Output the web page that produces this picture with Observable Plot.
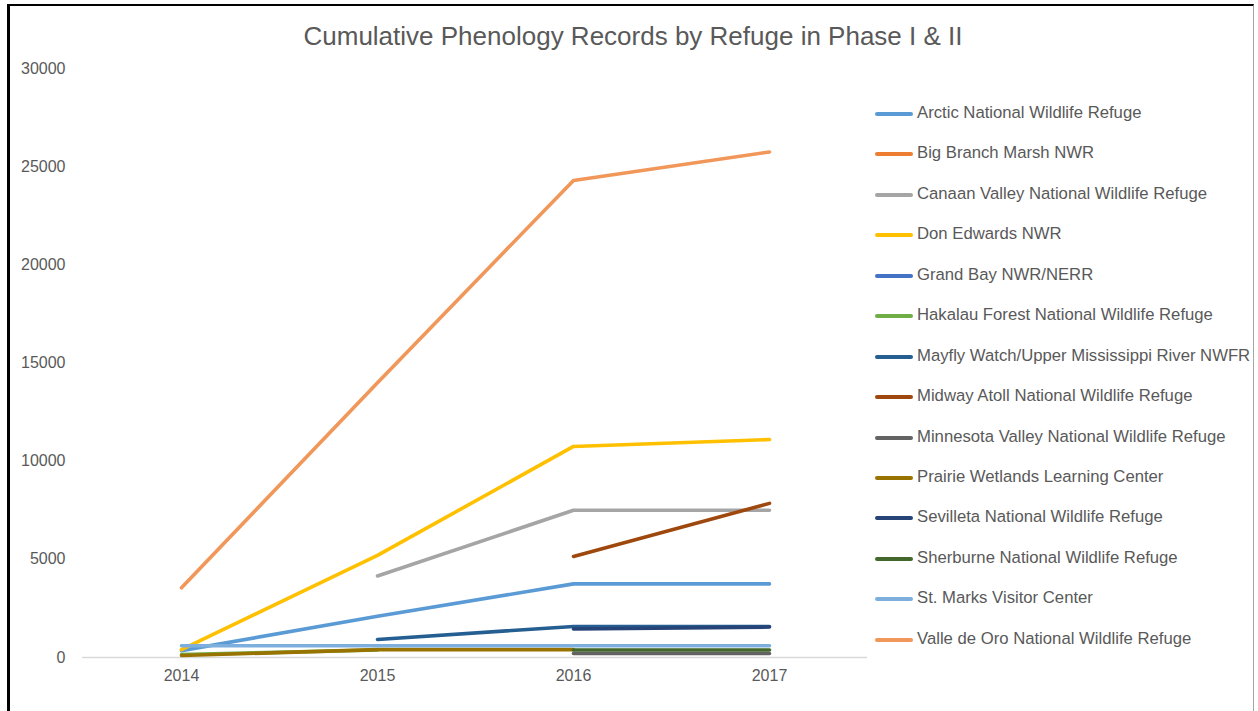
<!DOCTYPE html>
<html>
<head>
<meta charset="utf-8">
<script src="https://cdn.jsdelivr.net/npm/d3@7"></script>
<script src="https://cdn.jsdelivr.net/npm/@observablehq/plot@0.6"></script>
<style>
  html, body { margin: 0; padding: 0; background: #fff; }
  #wrap { position: relative; width: 1258px; height: 711px; overflow: hidden; font-family: "Liberation Sans", Arial, sans-serif; }
  #frame { position: absolute; left: 7px; top: 4px; width: 1247px; height: 720px; border-left: 3px solid #000; border-top: 2px solid #000; border-right: 1px solid #a6a6a6; box-sizing: border-box; }
  #title { position: absolute; left: 0; width: 1266px; top: 21px; text-align: center; font-size: 26px; color: #595959; }
  #chart { position: absolute; left: 0; top: 0; }
  #legend { position: absolute; left: 875px; top: 103px; }
  .item { height: 40.45px; display: flex; align-items: flex-start; font-size: 16.7px; color: #595959; white-space: nowrap; }
  .sw { width: 38px; height: 4px; border-radius: 2px; margin-top: 9px; margin-right: 4px; }
</style>
</head>
<body>
<div id="wrap">
  <div id="frame"></div>
  <div id="title">Cumulative Phenology Records by Refuge in Phase I &amp; II</div>
  <div id="chart"></div>
  <div id="legend"></div>
</div>
<script>
const years = [2014, 2015, 2016, 2017];
const yTicks = [0, 5000, 10000, 15000, 20000, 25000, 30000];

const seriesNames = [
  "Arctic National Wildlife Refuge",
  "Big Branch Marsh NWR",
  "Canaan Valley National Wildlife Refuge",
  "Don Edwards NWR",
  "Grand Bay NWR/NERR",
  "Hakalau Forest National Wildlife Refuge",
  "Mayfly Watch/Upper Mississippi River NWFR",
  "Midway Atoll National Wildlife Refuge",
  "Minnesota Valley National Wildlife Refuge",
  "Prairie Wetlands Learning Center",
  "Sevilleta National Wildlife Refuge",
  "Sherburne National Wildlife Refuge",
  "St. Marks Visitor Center",
  "Valle de Oro National Wildlife Refuge"
];
const seriesColors = [
  "#5B9BD5", "#ED7D31", "#A5A5A5", "#FFC000", "#4472C4", "#70AD47", "#255E91",
  "#9E480E", "#636363", "#997300", "#264478", "#43682B", "#7CAFDD", "#F1975A"
];

// values per year [2014, 2015, 2016, 2017]; null = no record
const arctic      = [350, 2100, 3750, 3750];
const bigBranch   = [null, null, null, null];
const canaan      = [null, 4150, 7500, 7500];
const donEdwards  = [400, 5200, 10750, 11100];
const grandBay    = [null, null, null, null];
const hakalau     = [150, 380, null, null];
const mayfly      = [null, 920, 1580, 1580];
const midway      = [null, null, 5150, 7850];
const minnesota   = [null, null, 200, 200];
const prairie     = [100, 400, 400, null];
const sevilleta   = [null, null, 1450, 1550];
const sherburne   = [null, null, 380, 380];
const stMarks     = [600, 600, 600, 600];
const valleDeOro  = [3550, 14000, 24300, 25750];

const seriesValues = [arctic, bigBranch, canaan, donEdwards, grandBay, hakalau, mayfly,
  midway, minnesota, prairie, sevilleta, sherburne, stMarks, valleDeOro];

const rows = [];
seriesNames.forEach((name, i) => {
  years.forEach((yr, j) => {
    rows.push({series: name, year: yr, value: seriesValues[i][j]});
  });
});

const marks = [
  Plot.ruleY([0], {stroke: "#D9D9D9", strokeWidth: 1.3})
];
seriesNames.forEach((name, i) => {
  marks.push(Plot.line(rows.filter(d => d.series === name), {
    x: "year", y: "value", stroke: seriesColors[i], strokeWidth: 3.6,
    strokeLinecap: "round", strokeLinejoin: "round"
  }));
});

const chart = Plot.plot({
  width: 867,
  height: 711,
  marginLeft: 82,
  marginRight: 0,
  marginTop: 68,
  marginBottom: 54,
  style: {fontFamily: "'Liberation Sans', Arial, sans-serif", fontSize: "16px", color: "#595959", background: "transparent"},
  x: {type: "point", domain: years, padding: 0.5, label: null, tickSize: 0, tickPadding: 12, tickFormat: d => String(d)},
  y: {domain: [0, 30000], ticks: yTicks, label: null, tickSize: 0, tickPadding: 17, tickFormat: d => String(d)},
  marks
});
document.getElementById("chart").appendChild(chart);

const legend = document.getElementById("legend");
seriesNames.forEach((name, i) => {
  const item = document.createElement("div");
  item.className = "item";
  const sw = document.createElement("div");
  sw.className = "sw";
  sw.style.background = seriesColors[i];
  const t = document.createElement("span");
  t.textContent = name;
  item.appendChild(sw);
  item.appendChild(t);
  legend.appendChild(item);
});
</script>
</body>
</html>
